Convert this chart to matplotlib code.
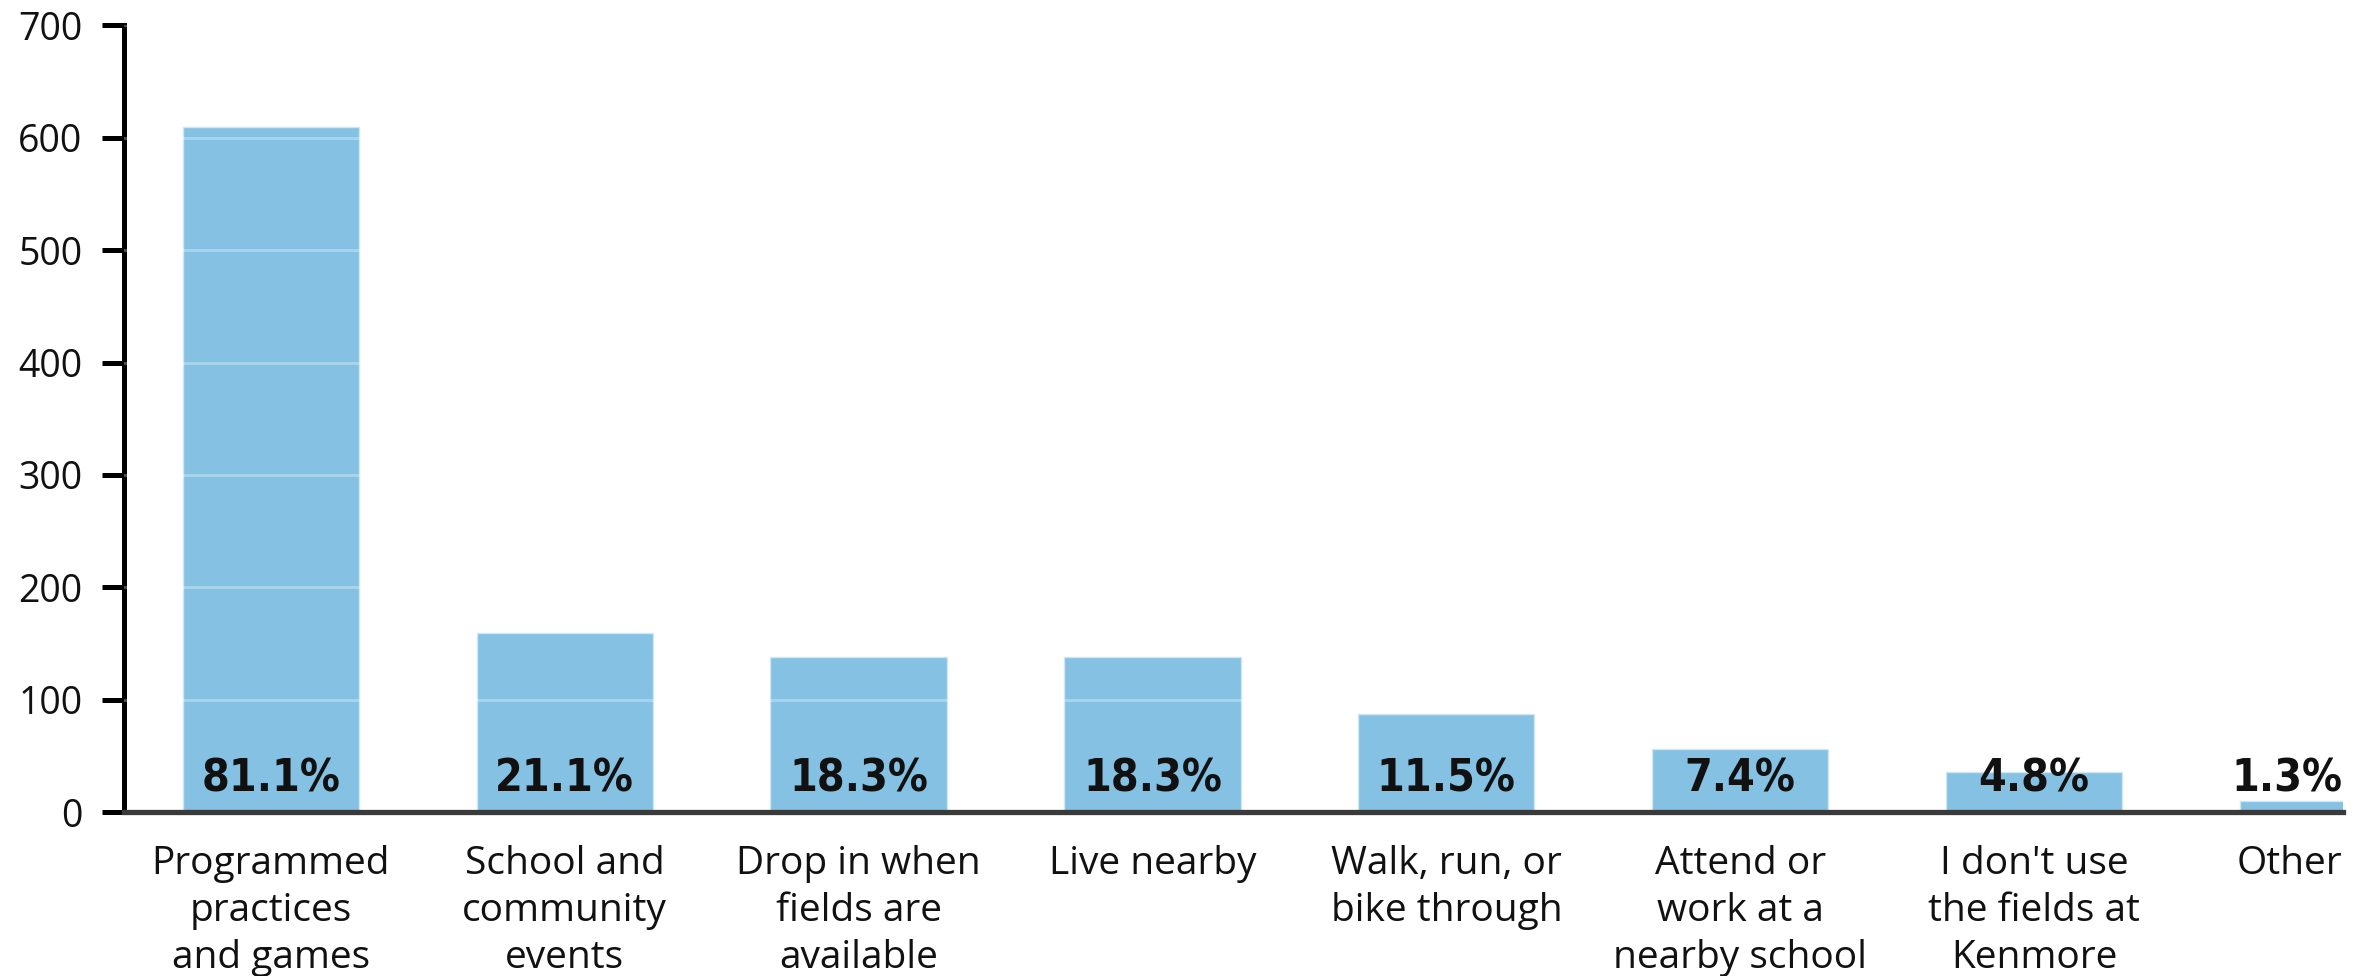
import matplotlib
matplotlib.use("Agg")
import matplotlib.pyplot as plt
from matplotlib import font_manager

# Данные опроса
categories = [
    "Programmed\npractices\nand games",
    "School and\ncommunity\nevents",
    "Drop in when\nfields are\navailable",
    "Live nearby",
    "Walk, run, or\nbike through",
    "Attend or\nwork at a\nnearby school",
    "I don't use\nthe fields at\nKenmore",
    "Other",
]
counts = [610, 159, 138, 138, 87, 56, 36, 10]
percents = ["81.1%", "21.1%", "18.3%", "18.3%", "11.5%", "7.4%", "4.8%", "1.3%"]
yticks = [0, 100, 200, 300, 400, 500, 600, 700]

plt.rcParams['font.family'] = ['Open Sans', 'DejaVu Sans']

# ищем узкий жирный шрифт для подписей процентов
narrow = None
for f in font_manager.fontManager.ttflist:
    if ('Narrow' in f.name or 'Condensed' in f.name or 'Condensed' in f.fname) and f.weight in (700, 'bold'):
        narrow = f.fname
        break

fig = plt.figure(figsize=(23.71, 9.76), dpi=100)
ax = fig.add_axes([0.0523, 0.168, 0.9357, 0.806])

x = list(range(len(categories)))
ax.bar(x, counts, width=0.6, color='#85C1E2', edgecolor='#CFE6F3', linewidth=1.0, zorder=2)

# белые полупрозрачные линии сетки поверх столбцов
for v in yticks[1:]:
    ax.axhline(v, color='white', alpha=0.3, linewidth=2.2, zorder=3)

xmax = 7.05
for xi, p in zip(x, percents):
    kw = dict(fontsize=31, fontweight='bold', color='#111111', zorder=4, va='baseline')
    if narrow:
        kw['fontproperties'] = font_manager.FontProperties(fname=narrow, size=32)
        kw.pop('fontsize'); kw.pop('fontweight')
    else:
        kw['family'] = ['Roboto', 'DejaVu Sans']
    if xi == len(x) - 1:
        ax.text(xmax, 18, p, ha='right', **kw)
    else:
        ax.text(xi, 18, p, ha='center', **kw)

ax.set_xlim(-0.5, xmax)
ax.set_ylim(0, 700)
ax.set_yticks(yticks)
# последняя подпись прижата к правому краю оси, как в оригинале
ax.set_xticks(x[:-1] + [xmax])
ax.set_xticklabels(categories, fontsize=28, color='#111111', linespacing=1.31)
ax.get_xticklabels()[-1].set_ha('right')

ax.spines['top'].set_visible(False)
ax.spines['right'].set_visible(False)
ax.spines['left'].set_linewidth(3.6)
ax.spines['left'].set_color('black')
ax.spines['bottom'].set_linewidth(3.8)
ax.spines['bottom'].set_color('#3A3A3A')
ax.spines['bottom'].set_zorder(5)

ax.tick_params(axis='y', length=16, width=3.6, color='black', pad=14, labelsize=27, labelcolor='#111111')
ax.tick_params(axis='x', length=0, pad=24)

fig.savefig("out.png", dpi=100)
